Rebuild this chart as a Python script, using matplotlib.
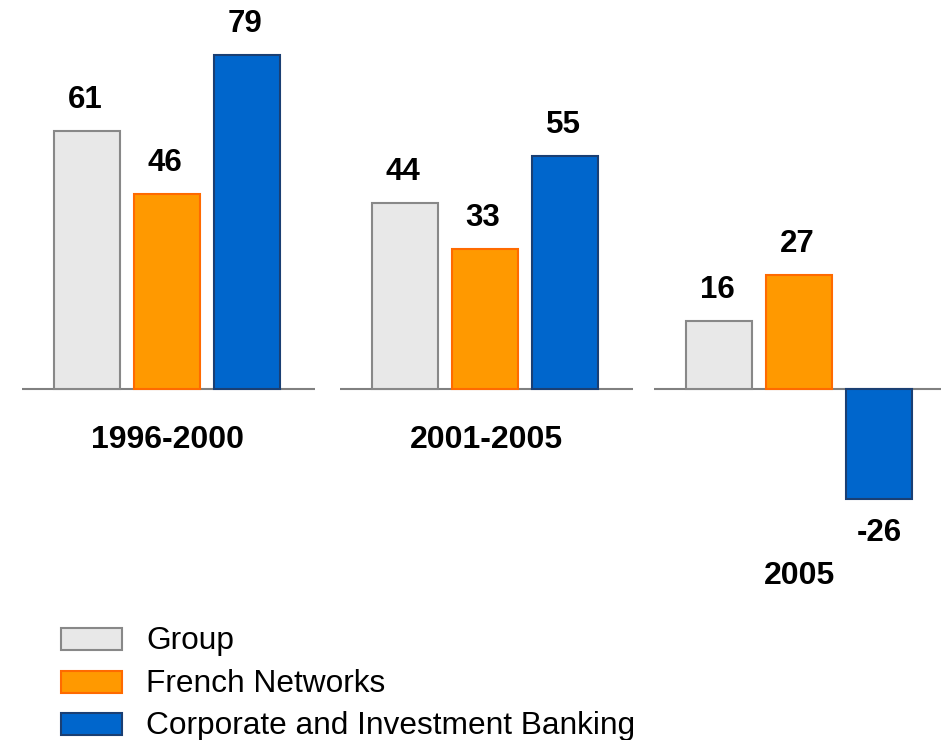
import matplotlib.pyplot as plt
from matplotlib.patches import Rectangle

plt.rcParams['font.family'] = ['Liberation Sans', 'DejaVu Sans']

# data
periods = ['1996-2000', '2001-2005', '2005']
series = ['Group', 'French Networks', 'Corporate and Investment Banking']
group_vals = [61, 44, 16]
french_vals = [46, 33, 27]
cib_vals = [79, 55, -26]

fills = ['#e8e8e8', '#ff9900', '#0066cc']
edges = ['#888888', '#ff6a00', '#1a3f73']

fig = plt.figure(figsize=(9.41, 7.40), dpi=100)
ax = fig.add_axes([0, 0, 1, 1])
# x in pixels, y in value units (zero line sits at 389 px from the top)
px_per_unit = 4.23
zero_px = 389
ax.set_xlim(0, 941)
ax.set_ylim((zero_px - 740) / px_per_unit, zero_px / px_per_unit)
ax.axis('off')

centers = [167, 485, 799]
step = 80
width = 66
all_vals = [group_vals, french_vals, cib_vals]

for g, c in enumerate(centers):
    ax.hlines(0, c - 145, c + 148, color='#808080', lw=1.5, zorder=1)
    for s in range(3):
        v = all_vals[s][g]
        x = c + (s - 1) * step
        ax.bar(x, v, width=width, color=fills[s], edgecolor=edges[s],
               linewidth=1.5, zorder=2)
        if v >= 0:
            ax.text(x - 2, v + 31 / px_per_unit, str(v), ha='center', va='center',
                    fontsize=22.5, fontweight='bold')
        else:
            ax.text(x, v - 34 / px_per_unit, str(v), ha='center', va='center',
                    fontsize=22.5, fontweight='bold')
    low = min(0, min(vals[g] for vals in all_vals))
    label_y = -51 / px_per_unit if low == 0 else low - 77 / px_per_unit
    ax.text(c + 1, label_y, periods[g], ha='center', va='center',
            fontsize=23, fontweight='bold')

# legend drawn by hand in figure pixels
legend_y = [639, 682, 724]
for s in range(3):
    yc = (zero_px - legend_y[s]) / px_per_unit
    ax.add_patch(Rectangle((61, yc - 11 / px_per_unit), 61, 22 / px_per_unit,
                           facecolor=fills[s], edgecolor=edges[s], linewidth=1.5))
    ax.text(146, yc - 2 / px_per_unit, series[s], ha='left', va='center', fontsize=22.8)

fig.savefig('out.png', dpi=100)
